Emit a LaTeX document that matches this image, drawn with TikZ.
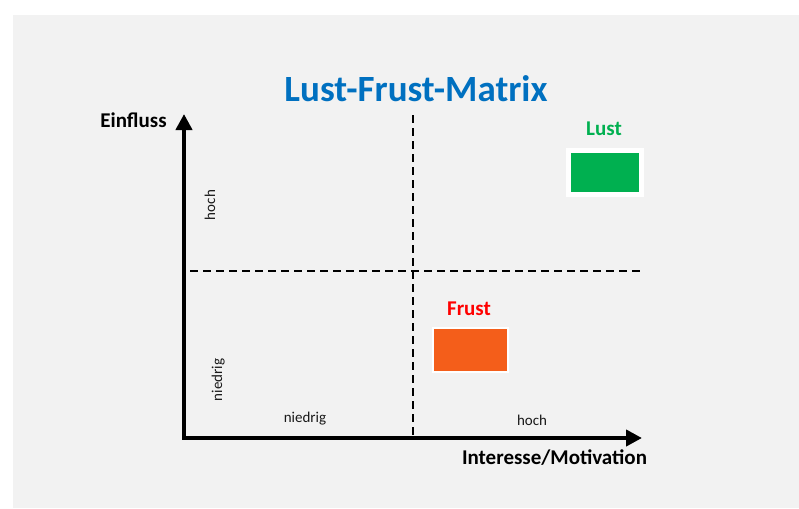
\documentclass[tikz,border=0pt]{standalone}
\usepackage{fontspec}
\setmainfont{Carlito}
\usetikzlibrary{arrows.meta}
\definecolor{bggray}{RGB}{242,242,242}
\definecolor{titleblue}{RGB}{0,112,192}
\definecolor{lustgreen}{RGB}{0,176,80}
\definecolor{frustorange}{RGB}{244,94,26}
\definecolor{frustred}{RGB}{255,0,0}
\tikzset{
  axis/.style={line width=4pt, -{Triangle[length=16pt,width=16pt]}},
  divider/.style={line width=2pt, dash pattern=on 8pt off 5pt},
  bigbold/.style={font=\fontsize{21}{21}\selectfont\bfseries, inner sep=0pt, anchor=base},
  small/.style={font=\fontsize{15}{15}\selectfont, inner sep=0pt, anchor=base, text=black!90},
  markbox/.style={draw=white, inner sep=0pt, outer sep=0pt}
}
\begin{document}
\begin{tikzpicture}[x=1pt,y=-1pt]
\useasboundingbox (0,0) rectangle (799,508);
\fill[bggray] (13,15) rectangle (799,508);
% title
\node[font=\fontsize{37}{37}\selectfont\bfseries, text=titleblue, inner sep=0pt, anchor=base] (title) at (416,102) {Lust-Frust-Matrix};
% axes
\coordinate (origin) at (184,438);
\coordinate (ytip) at (184,114);
\coordinate (xtip) at (642,438);
\draw[axis] ([yshift=2pt]origin) -- (ytip);
\draw[axis] ([xshift=-2pt]origin) -- (xtip);
\node[bigbold] (ylabel) at (133.5,128) {Einfluss};
\node[bigbold] (xlabel) at (554.5,464) {Interesse/Motivation};
% dividers
\coordinate (vtop) at (413,115);
\coordinate (vbot) at (413,438);
\coordinate (hleft) at (190,271);
\coordinate (hright) at (642,271);
\draw[divider] (vtop) -- (vbot);
\draw[divider] (hleft) -- (hright);
% axis level labels
\node[small, rotate=90] (yhoch) at (215,205) {hoch};
\node[small, rotate=90] (yniedrig) at (222,380) {niedrig};
\node[small] (xniedrig) at (305,422) {niedrig};
\node[small] (xhoch) at (532,425) {hoch};
% Frust
\node[bigbold, text=frustred] (frustlabel) at (469,315) {Frust};
\fill[white] (432,327) rectangle (509,373);
\fill[frustorange] (434,329) rectangle (507,371);
\node[inner sep=0pt] (frustbox) at (470.5,350) {};
% Lust
\node[bigbold, text=lustgreen] (lustlabel) at (604,135) {Lust};
\fill[white] (566,148) rectangle (644,197);
\fill[lustgreen] (571,153) rectangle (639,192);
\node[inner sep=0pt] (lustbox) at (605,172.5) {};
\end{tikzpicture}
\end{document}
